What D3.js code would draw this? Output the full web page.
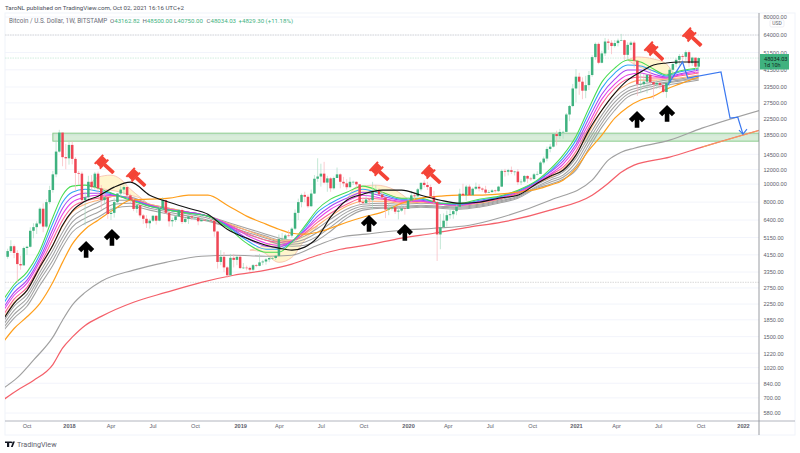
<!DOCTYPE html>
<html lang="en">
<head>
<meta charset="UTF-8" />
<title>Bitcoin / U.S. Dollar, 1W</title>
<script src="https://d3js.org/d3.v7.min.js"></script>
<style>
  html, body { margin: 0; padding: 0; background: #fff; }
  svg { display: block; font-family: Roboto, "Liberation Sans", sans-serif; }
  .axis text { font-size: 5.6px; fill: #5d606b; }
  .axis .domain, .axis line { display: none; }
  .series { fill: none; }
</style>
</head>
<body>
<svg id="chart" width="800" height="453"></svg>
<script>
// weekly candles from the week of 2017-08-21, one value per week
const firstWeek = '2017-08-21';
const firstOpen = 4050;
const closes = [4350,4620,4250,3700,3640,4520,4590,5600,5860,6130,7370,5900,8000,9300,11300,15000,19000,14000,13800,
  16300,13700,11500,11400,8200,8500,10300,9650,11400,9500,8200,8500,6900,7000,8000,8900,9350,9650,8700,8200,7350,7700,6780,6500,6150,6350,6750,6350,7400,8200,7000,6300,6400,6700,7250,6250,6500,6700,6600,6600,6300,6420,6400,6400,6350,5550,3800,4050,3550,3220,4000,3900,4050,
  3520,3540,3530,3450,3650,3620,3780,3820,3920,3990,3990,4100,5050,5070,5280,5270,5750,7000,8000,8750,8550,7600,8900,10700,11000,11400,10200,10750,9500,10800,11300,10300,10100,9630,10300,10300,9980,8000,7900,8270,8200,9200,9200,8800,8480,7300,7400,7500,7100,7200,7400,7350,
  8150,8700,8600,9380,10170,9900,9650,8600,8000,5350,5850,6350,6800,6880,7150,7550,8880,8700,9700,8720,9450,9680,9470,9350,9000,9060,9250,9170,9700,11800,11680,11900,11650,11700,10250,10320,11080,10720,10670,11300,11360,13100,13750,15500,15950,18650,18200,19150,19170,23800,26450,32900,
  38100,35800,32000,34300,38900,48600,57300,45300,50900,59000,58100,55800,57900,59700,60000,50000,56600,58200,46500,34700,34700,35800,39000,35600,34600,35300,34300,31500,35300,41500,44600,47000,49300,48800,51700,45100,48300,43162.82,48034.03];
const highs = [4480,4980,4720,4400,4100,4600,4650,5850,6150,6300,7500,7880,8300,9800,11800,17200,19666,19000,16500,
  17250,17100,14000,11800,11700,9100,11100,11200,11650,11700,9900,9200,8500,7500,8450,8950,9750,9950,9700,8880,8400,7800,7750,6900,6800,6500,6800,6780,7600,8500,8250,7150,6600,6800,7350,7400,6550,6800,6800,6650,6700,6800,6500,6500,6600,6480,5600,4400,4300,3600,4200,4200,4100,
  4100,3750,3630,3590,3700,3700,4200,3900,3980,4050,4080,4150,5350,5450,5380,5650,5850,7300,8350,8900,9100,8800,9350,11200,13800,12900,13200,11100,10900,11000,12300,11450,10950,10650,10900,10450,10350,10000,8450,8800,8400,10300,9900,9500,9150,8500,7850,7750,7450,7500,7700,7620,
  8500,9200,8950,9550,10200,10500,10300,9950,9200,8200,6900,6950,7200,7450,7300,7750,9450,10050,9900,9950,9600,10200,10000,9600,9800,9300,9400,9350,9800,12000,12100,12100,12450,11800,12050,10650,11200,11180,10950,11500,11750,13350,14100,15950,16500,18950,19450,19900,19450,24250,26800,34800,
  41900,40000,37800,38500,40900,49700,58300,58300,52600,61700,61000,60000,60100,61200,64900,60400,58400,59500,59600,46600,40900,39500,39400,41300,36000,36600,35100,34600,35400,42600,45300,48100,50500,50500,52900,52900,48800,48000,48500];
const lows = [3950,4250,3980,2950,3450,3650,4150,4550,5100,5380,6030,5500,5800,7800,9000,10900,14800,12500,12050,
  12750,12800,9200,9900,7600,6000,8200,9200,9350,8400,7300,7800,6500,6400,6600,7800,8600,8800,8300,7900,7150,7000,6600,6100,5800,5750,6250,6050,6300,7300,6900,5900,5900,6250,6650,6100,6150,6100,6400,6450,6000,6300,6350,6250,6300,5200,3500,3650,3350,3120,3180,3550,3650,
  3480,3480,3420,3340,3380,3560,3600,3650,3670,3790,3900,3890,4080,4950,4980,5200,5150,5650,6400,7500,8000,7450,7550,8850,10300,9700,10100,9100,9100,9350,10800,9500,9700,9350,9600,9900,9600,7700,7700,7850,7700,7300,8900,8700,8350,6550,6800,7200,6900,6450,7100,6850,
  7650,8050,8250,8550,9150,9600,9300,8500,7650,3850,4450,5800,5900,6500,6500,6800,7500,8600,8150,8700,8650,9300,9150,9100,8850,8950,9000,9000,9100,9650,11000,11150,11350,11150,9900,9900,10200,10150,10400,10550,11150,11400,12800,13300,14850,15800,16200,17600,17600,19050,21900,26100,
  27700,30400,28800,29150,32300,38100,47000,44500,45000,49300,53200,50400,54800,55500,59600,47000,47500,52900,42600,30000,31000,33400,31000,34900,28800,32700,32700,31000,29300,33800,37300,42800,43900,46300,46500,43000,43500,39700,40750];

// moving average readings, taken at these weeks (counted from firstWeek)
const ribbonWeeks = [-1,2,6,10,14,17,20,24,28,33,38,44,50,56,62,68,74,80,84,88,92,96,100,105,110,116,122,128,134,140,146,152,158,164,168,172,176,180,184,188,192,196,200,204,208,214];
const greenLine = [2420,2870,3350,4400,6630,8720,9760,9880,9520,8830,8190,7600,7240,6970,6720,5860,4800,4290,4290,4860,5930,7320,8300,9050,9760,9050,8400,8400,7890,7890,8300,8610,9280,10510,12050,14350,18180,25750,35600,42430,46900,45750,41900,38900,40880,42430];
const blueLine = [2300,2760,3180,4180,6150,7990,9050,9400,9170,8830,8300,7600,7240,6970,6720,5930,4980,4450,4450,4860,5780,7060,7890,8720,9400,8830,8300,8300,7890,7790,8190,8510,9170,10380,11750,13820,17300,24190,33040,39870,44050,43500,40880,38420,40370,41900];
const violetLine = [2190,2600,3030,3980,5710,7410,8510,8940,8940,8720,8300,7700,7240,7060,6720,6000,5110,4620,4570,4920,5640,6720,7600,8400,9050,8610,8190,8190,7890,7790,8090,8510,9170,10380,11610,13310,16450,22730,30650,37000,41400,41400,39380,37940,39380,41400];
const magentaLine = [2110,2510,2920,3830,5370,6880,7990,8510,8720,8720,8300,7700,7320,7060,6720,6080,5300,4800,4680,4920,5570,6470,7320,8090,8720,8400,8090,8090,7790,7700,7990,8400,9050,10250,11320,12820,15850,21360,28820,34730,38900,39870,38420,37470,38900,40370];
const pinkLine = [2000,2390,2770,3650,5040,6390,7510,8090,8400,8720,8400,7700,7320,7060,6720,6080,5430,4980,4860,4920,5430,6230,6970,7790,8400,8300,7990,8090,7790,7700,7990,8300,8940,10120,11190,12350,15080,20330,27080,33040,37000,37940,37470,37470,38420,39870];
const peachLine = [1920,2300,2670,3530,4680,5930,7060,7790,8190,8610,8400,7790,7410,7060,6720,6150,5640,5170,4980,4980,5370,6000,6720,7600,8090,8090,7890,7990,7790,7700,7890,8300,8940,10120,10910,12050,14520,19110,25100,31000,34730,36500,36500,37000,37470,38900];
const blackLine = [1900,2270,2670,3570,4680,6000,7150,8090,8610,9640,10250,8720,7990,7410,6880,5710,5110,4680,4510,4400,4570,5170,6630,8190,8830,9280,9280,8720,8190,7890,7990,8400,8720,10120,11050,11900,14350,19600,25100,31000,36500,40370,44050,45180,45750,45750];
const orangeLine = [1430,1660,1920,2270,2950,3780,4740,5710,6390,7320,8190,8300,8400,8720,8720,7700,6720,6080,5710,5430,5370,5500,5780,6230,6630,7060,7890,8400,8610,8720,8720,8830,9050,9400,9880,10510,12200,15270,18410,22730,26080,28500,29920,32630,34730,37940];
const gray1Line = [1840,2190,2540,3340,4400,5500,6630,7410,7990,8610,8510,7790,7410,7060,6720,6230,5780,5370,5110,4980,5240,5780,6470,7320,7790,7890,7790,7890,7790,7600,7790,8190,8830,10000,10780,11610,13820,18180,23620,29180,33040,34730,35600,36500,37000,38420];
const gray2Line = [1770,2080,2420,3180,4130,5170,6230,6970,7510,8190,8190,7600,7240,6880,6550,6080,5640,5240,4980,4860,5040,5500,6150,7060,7600,7700,7600,7700,7600,7510,7700,8090,8610,9760,10510,11190,13150,17300,22450,27750,31800,33450,34730,35600,36500,37470];
const gray3Line = [1700,1980,2300,3030,3880,4860,5860,6550,7060,7790,7890,7410,7060,6720,6390,5930,5500,5110,4860,4740,4860,5240,5860,6800,7410,7510,7510,7600,7510,7410,7600,7990,8510,9640,10250,10910,12510,16450,21360,26400,30650,32630,33870,35160,36050,37000];
const gray4Line = [1640,1890,2190,2840,3650,4570,5500,6150,6630,7410,7600,7240,6880,6550,6310,5860,5370,4980,4740,4620,4680,4980,5570,6550,7240,7410,7410,7510,7410,7320,7510,7890,8400,9520,10000,10640,11900,15650,20330,25100,29550,31400,33040,34300,35160,36500];

// the two long averages carry on past the last candle
const longWeeks = [-1,3,8,14,17,20,24,29,39,49,60,70,80,88,96,103,111,122,132,143,153,168,181,186,190,194,205,215,233];
const longGray = [796,900,1120,1490,1840,2220,2600,2990,3430,3780,4080,4130,4080,4130,4680,5170,5370,5640,5780,6000,6630,8190,10510,13480,14890,15650,17300,20080,25100];
const longRed = [690,770,870,1060,1300,1490,1725,1930,2300,2600,2950,3220,3430,3700,4130,4450,4680,5110,5430,5860,6230,7240,8720,10120,11610,12670,13990,15850,19600];

// pale clouds: weeks, upper edge, lower edge
const cloudA = [[25,28,32,35,38,41,44],[9760,10910,11190,10640,9400,8510,7700],[9760,9520,9280,9050,8720,8400,7700]];
const cloudB = [[75,79,84,88,92,96],[4400,4620,4980,4800,5500,5930],[4400,4290,3780,4020,4980,5930]];
const cloudC = [[105,108,114,120,124],[8190,9640,9880,9280,8300],[8190,8830,9170,8510,8190]];
const cloudD = [[192,195,200,204,206],[46900,48690,47490,44620,39870],[46900,43500,40880,39380,39870]];

// author's drawings
const zoneStartWeek = 14;
const zoneTop = 18870;
const zoneBottom = 17080;
const pathWeeks = [204.4,209,210.6,220.9,223.7,226.1,227.7];
const pathPrices = [34300,45750,37470,40370,22730,23010,18640];
const gavelWeeks = [30.2,40,115.3,131.4,200.4,212.2];
const gavelPrices = [12670,10780,11610,11190,51800,61700];
const arrowWeeks = [24.3,32.3,111.9,123,194.9,204.2];
const arrowPrices = [4450,5170,6150,5500,22450,24190];
const levelPrices = [64000,2950];

// axes
const priceTicks = [80000,64000,51500,41500,33500,27500,22500,18500,14500,12000,10000,8000,6400,5150,4150,3350,2750,2250,1850,1500,1220,1020,840,700,580];
const timeTicks = ['2017-10-01','2018-01-01','2018-04-01','2018-07-01','2018-10-01','2019-01-07','2019-04-01','2019-07-01','2019-10-01','2020-01-06','2020-04-01','2020-07-01','2020-10-01','2021-01-04','2021-04-01','2021-07-01','2021-10-01','2022-01-01'];
const timeLabels = ['Oct','2018','Apr','Jul','Oct','2019','Apr','Jul','Oct','2020','Apr','Jul','Oct','2021','Apr','Jul','Oct','2022'];
const legendParts = [['O','43162.82',110],['H','48500.00',142.5],['L','40750.00',174],['C','48034.03',206.5]];

const GREEN = '#3fb27f', RED = '#ef4655';
const plot = { left: 5, right: 759, top: 14, bottom: 421 };

const svg = d3.select('#chart');
const x = d3.scaleUtc().domain([new Date('2018-01-01'), new Date('2022-01-01')]).range([69, 743]);
const y = d3.scaleLog().domain([580, 64000]).range([413, 35]);
const weekDate = w => new Date(new Date(firstWeek).getTime() + w * 7 * 864e5);

// frame
svg.append('rect').attr('x', 5).attr('y', 13).attr('width', 790).attr('height', 422)
  .attr('fill', '#fff').attr('stroke', '#f0f3fa');

// grid
svg.append('g').selectAll('line').data(priceTicks).join('line')
  .attr('x1', plot.left).attr('x2', plot.right)
  .attr('y1', d => y(d)).attr('y2', d => y(d))
  .attr('stroke', '#f0f3fa').attr('stroke-width', 0.9);

svg.append('defs').append('clipPath').attr('id', 'plot-clip').append('rect')
  .attr('x', plot.left).attr('y', plot.top)
  .attr('width', plot.right - plot.left).attr('height', plot.bottom - plot.top);
const g = svg.append('g').attr('clip-path', 'url(#plot-clip)');

g.selectAll('.level').data(levelPrices).join('line')
  .attr('class', 'level')
  .attr('x1', plot.left).attr('x2', plot.right)
  .attr('y1', d => y(d)).attr('y2', d => y(d))
  .attr('stroke', '#c9c9c9').attr('stroke-width', 0.7).attr('stroke-dasharray', '1.5 1');

// last price line
g.append('line').attr('x1', plot.left).attr('x2', plot.right)
  .attr('y1', y(closes[closes.length - 1])).attr('y2', y(closes[closes.length - 1]))
  .attr('stroke', '#bfe6d2').attr('stroke-width', 0.7).attr('stroke-dasharray', '1.5 1');

// support zone
g.append('rect')
  .attr('x', x(weekDate(zoneStartWeek))).attr('width', plot.right - x(weekDate(zoneStartWeek)))
  .attr('y', y(zoneTop)).attr('height', y(zoneBottom) - y(zoneTop))
  .attr('fill', '#4caf50').attr('fill-opacity', 0.22)
  .attr('stroke', '#81c784').attr('stroke-width', 0.9);

// clouds
const cloudArea = d3.area().curve(d3.curveMonotoneX)
  .x(d => x(weekDate(d[0]))).y0(d => y(d[2])).y1(d => y(d[1]));
const cloudTop = d3.line().curve(d3.curveMonotoneX)
  .x(d => x(weekDate(d[0]))).y(d => y(d[1]));
const cloudBottom = d3.line().curve(d3.curveMonotoneX)
  .x(d => x(weekDate(d[0]))).y(d => y(d[2]));
[cloudA, cloudB, cloudC, cloudD].forEach(c => {
  const rows = c[0].map((w, i) => [w, c[1][i], c[2][i]]);
  g.append('path').attr('d', cloudArea(rows)).attr('fill', '#fff3c4').attr('fill-opacity', 0.85);
  g.append('path').attr('class', 'series').attr('d', cloudTop(rows)).attr('stroke', '#f5b5a0').attr('stroke-width', 0.7);
  g.append('path').attr('class', 'series').attr('d', cloudBottom(rows)).attr('stroke', '#f5b5a0').attr('stroke-width', 0.7);
});

// long averages
const drawSeries = (weeks, values, color, width) => {
  const rows = weeks.map((w, i) => [w, values[i]]);
  const line = d3.line().curve(d3.curveMonotoneX).x(d => x(weekDate(d[0]))).y(d => y(d[1]));
  g.append('path').attr('class', 'series').attr('d', line(rows))
    .attr('stroke', color).attr('stroke-width', width);
};
drawSeries(longWeeks, longGray, '#a0a0a0', 1.15);
drawSeries(longWeeks, longRed, '#f4606a', 1.25);
// orange overlay on the far end of the red one
drawSeries(longWeeks.slice(-2), longRed.slice(-2), '#f5a55a', 0.9);

// ribbon
[[gray4Line, '#a2a2a2'], [gray3Line, '#a2a2a2'], [gray2Line, '#a2a2a2'], [gray1Line, '#a2a2a2'],
 [peachLine, '#ffb070'], [pinkLine, '#fb6390'], [magentaLine, '#e640e8'], [violetLine, '#a845f2'],
 [blueLine, '#2ea4f5'], [greenLine, '#48dc50']].forEach(([values, color]) => {
  drawSeries(ribbonWeeks, values, color, 1.05);
});
drawSeries(ribbonWeeks, orangeLine, '#ff9f1c', 1.2);

// candles
const candles = closes.map((c, i) => ({
  date: weekDate(i),
  open: i ? closes[i - 1] : firstOpen,
  close: c, high: highs[i], low: lows[i]
}));
const bar = g.append('g').selectAll('g').data(candles).join('g');
bar.append('line')
  .attr('x1', d => x(d.date)).attr('x2', d => x(d.date))
  .attr('y1', d => y(d.high)).attr('y2', d => y(d.low))
  .attr('stroke', d => d.close >= d.open ? '#a9dcc3' : '#f8b6bb').attr('stroke-width', 0.7);
bar.append('rect')
  .attr('x', d => x(d.date) - 1.25).attr('width', 2.5)
  .attr('y', d => y(Math.max(d.open, d.close)))
  .attr('height', d => Math.max(0.6, Math.abs(y(d.open) - y(d.close))))
  .attr('fill', d => d.close >= d.open ? GREEN : RED);

drawSeries(ribbonWeeks, blackLine, '#111', 1.15);

// projected path
const pathLine = d3.line().x((d, i) => x(weekDate(pathWeeks[i]))).y(d => y(d));
g.append('path').attr('class', 'series').attr('d', pathLine(pathPrices))
  .attr('stroke', '#3b78f0').attr('stroke-width', 1.2);
const tipX = x(weekDate(pathWeeks[pathWeeks.length - 1]));
const tipY = y(pathPrices[pathPrices.length - 1]);
g.append('path').attr('class', 'series')
  .attr('d', `M${tipX - 4},${tipY - 4}L${tipX},${tipY}L${tipX + 4},${tipY - 5}`)
  .attr('stroke', '#3b78f0').attr('stroke-width', 1.1);

// gavels
const gavel = g.append('g').selectAll('g').data(gavelWeeks).join('g')
  .attr('transform', (d, i) => `translate(${x(weekDate(d))},${y(gavelPrices[i])}) rotate(43)`)
  .attr('fill', '#f44336');
gavel.append('rect').attr('x', -9.5).attr('y', -6.2).attr('width', 2).attr('height', 12.4);
gavel.append('rect').attr('x', -8).attr('y', -5).attr('width', 6).attr('height', 10);
gavel.append('rect').attr('x', -2.5).attr('y', -6.2).attr('width', 2).attr('height', 12.4);
gavel.append('rect').attr('x', -1).attr('y', -1.9).attr('width', 12.5).attr('height', 3.8).attr('rx', 0.8);

// arrows
g.append('g').selectAll('path').data(arrowWeeks).join('path')
  .attr('class', 'series')
  .attr('transform', (d, i) => `translate(${x(weekDate(d))},${y(arrowPrices[i])})`)
  .attr('d', 'M0,8.5V-5M-6.5,1.5L0,-5L6.5,1.5')
  .attr('stroke', '#000').attr('stroke-width', 4.6);

// axes
svg.append('line').attr('x1', plot.left).attr('x2', 795).attr('y1', plot.bottom).attr('y2', plot.bottom)
  .attr('stroke', '#b2b5be').attr('stroke-width', 1);
svg.append('line').attr('x1', plot.right).attr('x2', plot.right).attr('y1', 13).attr('y2', 435)
  .attr('stroke', '#8f9299').attr('stroke-width', 0.9);

svg.append('g').attr('class', 'axis').attr('transform', `translate(${plot.right},0)`)
  .call(d3.axisRight(y).tickValues(priceTicks).tickFormat(d3.format('.2f')).tickSize(0).tickPadding(4.5));

svg.append('g').attr('class', 'axis').attr('transform', 'translate(0,424)')
  .call(d3.axisBottom(x).tickValues(timeTicks.map(d => new Date(d)))
    .tickFormat((d, i) => timeLabels[i]).tickSize(0).tickPadding(0))
  .selectAll('text')
  .attr('font-weight', (d, i) => /^\d/.test(timeLabels[i]) ? 600 : 400);

// USD button
svg.append('rect').attr('x', 770).attr('y', 20).attr('width', 14).attr('height', 7).attr('rx', 1.5)
  .attr('fill', '#fff').attr('stroke', '#e0e3eb').attr('stroke-width', 0.6);
svg.append('text').attr('x', 777).attr('y', 25.4).attr('text-anchor', 'middle')
  .attr('font-size', 5).attr('fill', '#5d606b').text('USD');

// last price tag
svg.append('rect').attr('x', 760).attr('y', 54).attr('width', 29).attr('height', 15.5)
  .attr('fill', GREEN);
svg.append('text').attr('x', 764).attr('y', 60.5).attr('font-size', 5.6).attr('fill', '#10261b')
  .text(d3.format('.2f')(closes[closes.length - 1]));
svg.append('text').attr('x', 764).attr('y', 67).attr('font-size', 5.4).attr('fill', '#10261b')
  .text('1d 10h');

// header
svg.append('text').attr('x', 5).attr('y', 9.8).attr('font-size', 6.15).attr('fill', '#4a4e59')
  .text('TaroNL published on TradingView.com, Oct 02, 2021 16:16 UTC+2');
svg.append('text').attr('x', 9).attr('y', 23).attr('font-size', 6.3).attr('fill', '#6a6d78')
  .text('Bitcoin / U.S. Dollar, 1W, BITSTAMP');
legendParts.forEach(([k, v, px]) => {
  const t = svg.append('text').attr('x', px).attr('y', 23).attr('font-size', 6.1).attr('fill', '#6a6d78').text(k);
  t.append('tspan').attr('fill', GREEN).text(v);
});
svg.append('text').attr('x', 238.5).attr('y', 23).attr('font-size', 6.1).attr('fill', GREEN)
  .text('+4829.30 (+11.18%)');

// footer
svg.append('path').attr('d', 'M5,441.5h6v1.6h-1.8v4h-2.2v-4H5zM13,441.5h1.9l-2.2,5.6h-1.8z')
  .attr('fill', '#131722');
svg.append('circle').attr('cx', 11.7).attr('cy', 442.3).attr('r', 0.9).attr('fill', '#131722');
svg.append('text').attr('x', 17).attr('y', 446.6).attr('font-size', 7.2).attr('fill', '#5d606b')
  .text('TradingView');
</script>
</body>
</html>
